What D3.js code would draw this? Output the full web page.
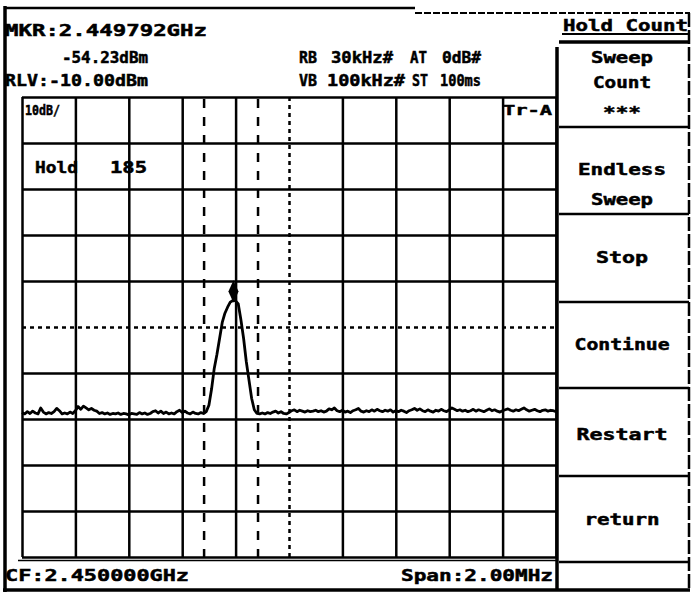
<!DOCTYPE html>
<html><head><meta charset="utf-8">
<script src="https://cdn.jsdelivr.net/npm/d3@7"></script>
<style>
html,body{margin:0;padding:0;background:#fff;}
svg{display:block;}
text{font-family:"DejaVu Sans Mono","Liberation Mono",monospace;font-weight:bold;fill:#000;stroke:#000;stroke-width:0.5px;}
</style></head>
<body>
<svg id="chart" width="693" height="593"></svg>
<script>
// ---------------- data ----------------
const centerFreqGHz = 2.450000;
const spanMHz = 2.00;
const refLevelDbm = -10.00;
const dbPerDiv = 10;
const divisionsX = [0,1,2,3,4,5,6,7,8,9,10];
const divisionsY = [0,1,2,3,4,5,6,7,8,9,10];
const markerFreqGHz = 2.449792;
const markerDbm = -54.23;
const channelLinesGHz = [2.449682, 2.449884];

// trace amplitudes (dBm), 201 sweep points evenly spaced across the span
const traceDbm = [
 -78.6,-78.9,-78.4,-78.8,-78.3,-78.7,-78.9,-77.6,-78.5,-78.9,
 -78.6,-78.8,-78.4,-77.7,-78.2,-78.9,-78.7,-78.9,-78.5,-78.8,
 -78.2,-77.3,-77.9,-77.2,-77.6,-78.0,-77.7,-78.1,-78.3,-78.8,
 -78.6,-78.9,-78.7,-79.0,-78.8,-78.9,-78.7,-79.0,-78.8,-78.9,
 -79.1,-78.8,-78.9,-79.0,-78.6,-78.9,-78.7,-79.0,-78.8,-78.4,
 -78.2,-78.7,-78.3,-78.8,-78.5,-78.9,-78.7,-78.9,-78.4,-78.1,
 -78.6,-78.3,-78.7,-78.9,-78.5,-78.8,-78.9,-78.6,-78.8,
 -78.4,-77.0,-73.5,-69.0,-66.0,-62.5,-59.0,-57.0,-55.7,-54.6,
 -54.23,-54.3,-55.0,-58.5,-62.5,-67.5,-71.5,-75.5,-78.0,-78.8,
 -78.9,-78.7,-78.9,-78.6,-78.8,-78.5,-78.3,-78.7,-78.4,-78.8,-78.9,-78.6,
 -78.2,-78.0,-78.4,-78.1,-78.3,-78.5,-78.2,-78.4,-78.3,-78.1,-78.4,-78.2,
 -78.5,-78.3,-77.8,-78.0,-77.6,-78.2,-78.4,-78.1,-78.5,-78.3,-78.6,-78.2,
 -78.0,-77.7,-78.3,-78.5,-78.2,-78.4,-78.0,-78.3,-77.9,-78.2,-78.4,-78.1,
 -78.3,-78.0,-78.5,-78.2,-78.4,-78.1,-78.3,-78.6,-78.2,-78.0,-77.7,-78.1,
 -77.8,-78.2,-78.4,-78.0,-78.3,-78.5,-78.1,-78.3,-77.9,-78.2,-78.4,-78.0,
 -77.6,-77.9,-78.2,-78.0,-78.3,-78.1,-78.4,-78.2,-77.9,-78.3,-78.0,-78.2,
 -78.4,-78.1,-77.8,-78.2,-78.0,-78.3,-78.5,-78.2,-78.0,-77.8,-78.1,-78.3,
 -78.0,-78.2,-77.9,-77.6,-78.0,-78.3,-78.1,-77.9,-78.2,-78.4,-78.1,-78.0,
 -78.3,-78.1,-78.2,-78.4
];

const softkeyTitle = "Hold Count";
const softkeyLabels = [
  {lines:["Sweep","Count","***"], base:[63,88,118], w:[62,58,38]},
  {lines:["Endless","Sweep"], base:[175,205], w:[88,62]},
  {lines:["Stop"], base:[263], w:[52]},
  {lines:["Continue"], base:[350], w:[95]},
  {lines:["Restart"], base:[440], w:[91]},
  {lines:["return"], base:[525], w:[75]}
];
const softkeyDividers = [42,127,214,302,388,476,562];

// ---------------- layout ----------------
const svg = d3.select("#chart");
const L = 22, R = 556, T = 97, B = 557;
const startGHz = centerFreqGHz - spanMHz/2000, stopGHz = centerFreqGHz + spanMHz/2000;
const x = d3.scaleLinear().domain([startGHz, stopGHz]).range([L, R]);
const y = d3.scaleLinear().domain([refLevelDbm - 10*dbPerDiv, refLevelDbm]).range([B, T]);
const step = (stopGHz - startGHz)/(traceDbm.length - 1);
const trace = traceDbm.map((v,i)=>[startGHz + i*step, v]);

// grid via axes
const xTicks = divisionsX.map(d => startGHz + d*(stopGHz-startGHz)/10);
const yTicks = divisionsY.map(d => refLevelDbm - d*dbPerDiv);

const gx = svg.append("g").attr("transform", `translate(0,${B})`)
  .call(d3.axisBottom(x).tickValues(xTicks).tickSize(-(B-T)).tickFormat(""));
gx.select(".domain").remove();
gx.selectAll(".tick line").attr("stroke","#000")
  .attr("stroke-width",2.5)
  .attr("stroke-dasharray",(d,i)=> i===5 ? "4 4" : null);

const gy = svg.append("g").attr("transform", `translate(${L},0)`)
  .call(d3.axisLeft(y).tickValues(yTicks).tickSize(-(R-L)).tickFormat(""));
gy.select(".domain").remove();
gy.selectAll(".tick line").attr("stroke","#000").attr("stroke-width",2.5)
  .attr("stroke-dasharray",(d)=> Math.abs(d - (refLevelDbm-5*dbPerDiv))<1e-6 ? "4 4" : null);

// second bottom line
svg.append("line").attr("x1",18).attr("x2",R).attr("y1",B+3.5).attr("y2",B+3.5)
  .attr("stroke","#000").attr("stroke-width",1.5);

// channel (dashed) lines
svg.selectAll(".ch").data(channelLinesGHz).enter().append("line")
  .attr("x1",d=>x(d)).attr("x2",d=>x(d)).attr("y1",T+2).attr("y2",B)
  .attr("stroke","#000").attr("stroke-width",2.5).attr("stroke-dasharray","9 9");

// trace
svg.append("path").datum(trace)
  .attr("d", d3.line().x(d=>x(d[0])).y(d=>y(d[1])))
  .attr("fill","none").attr("stroke","#000").attr("stroke-width",2.8)
  .attr("stroke-linejoin","round");

// marker
svg.append("path")
  .attr("d", d3.symbol().type(d3.symbolDiamond).size(110)())
  .attr("transform", `translate(${x(markerFreqGHz)},${y(markerDbm)-9}) scale(0.9,1.15)`)
  .attr("fill","#000");

// ---------------- frame ----------------
function ln(x1,y1,x2,y2,w,dash){
  svg.append("line").attr("x1",x1).attr("y1",y1).attr("x2",x2).attr("y2",y2)
    .attr("stroke","#000").attr("stroke-width",w).attr("stroke-dasharray",dash||null);
}
ln(5,6,5,592,3.5);            // left border
ln(4,8,415,8,2.5);            // top border solid
ln(415,13,690,13,2,"7 2");    // top border dashed
ln(689,13,689,591,2.5,"14 3");// right border
ln(3,590,690,590,3.5);        // bottom border
ln(557,47,557,591,3.5);       // softkey panel left
ln(562,34,689,34,2);          // title underline
softkeyDividers.forEach((d,i)=> ln(559,d,689,d,i===0?3.5:2.5));

// ---------------- text ----------------
function txt(s,x1,x2,base,size,anchor){
  const t = svg.append("text").text(s).attr("y",base).attr("font-size",size||16);
  if(anchor==="middle"){ t.attr("x",x1).attr("text-anchor","middle"); if(x2) t.attr("textLength",x2).attr("lengthAdjust","spacingAndGlyphs"); }
  else { t.attr("x",x1).attr("textLength",x2-x1).attr("lengthAdjust","spacingAndGlyphs"); }
  return t;
}
txt("MKR:2.449792GHz",5,207,36,16);
txt("-54.23dBm",62,148,63,16);
txt("RLV:-10.00dBm",5,148,86,16);
txt("RB",299,317,63,16);
txt("30kHz#",331,393,63,16);
txt("AT",410,427,63,16);
txt("0dB#",442,481,63,16);
txt("VB",299,317,86,16);
txt("100kHz#",327,405,86,16);
txt("ST",412,428,86,16);
txt("100ms",440,481,86,16);
txt("10dB/",25,60,115,14);
txt("Tr-A",503,552,115,14);
txt("Hold",35,78,173,16);
txt("185",110,147,173,16);
txt("CF:2.450000GHz",5,189,581,16);
txt("Span:2.00MHz",401,553,581,16);
txt(softkeyTitle,563,688,31,16);
softkeyLabels.forEach(k=>{
  k.lines.forEach((s,i)=> txt(s,622,k.w[i],k.base[i],16,"middle"));
});
</script>
</body></html>
